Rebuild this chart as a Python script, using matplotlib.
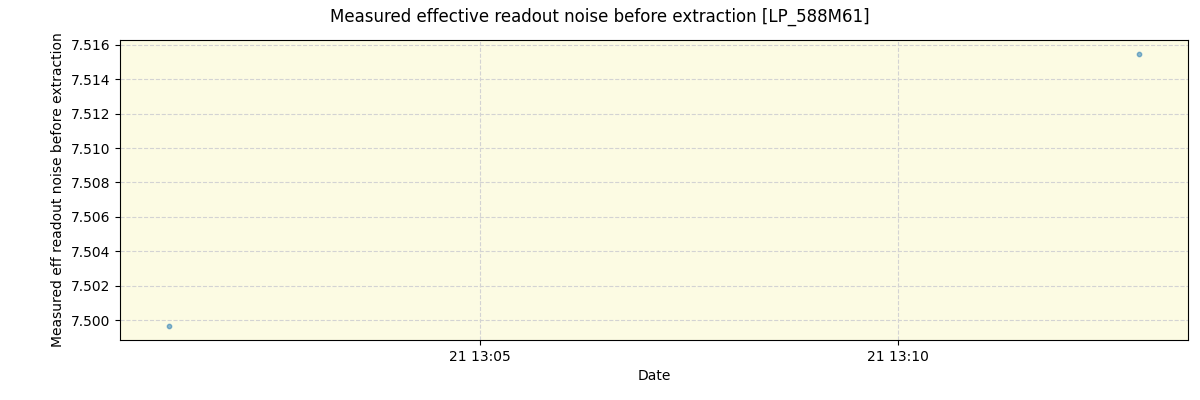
import matplotlib
matplotlib.use("Agg")
import matplotlib.pyplot as plt
import matplotlib.dates as mdates
import pandas as pd

# Data
dates = pd.to_datetime(["2023-06-21 13:01:17", "2023-06-21 13:12:53"])
noise = [7.49963, 7.51549]

fig = plt.figure(figsize=(12, 4), dpi=100)
ax = fig.add_axes([0.1, 0.15, 0.89, 0.75])
ax.set_facecolor("#fcfbe3")
ax.scatter(dates, noise, s=10, color="tab:blue", alpha=0.5, zorder=3)
ax.grid(True, linestyle="--", color="lightgrey", linewidth=0.8)
ax.xaxis.set_major_locator(mdates.MinuteLocator(byminute=[5, 10]))
ax.xaxis.set_major_formatter(mdates.DateFormatter("%d %H:%M"))
ax.yaxis.set_major_formatter(matplotlib.ticker.FormatStrFormatter("%.3f"))
ax.set_xlabel("Date")
ax.set_ylabel("Measured eff readout noise before extraction")
fig.suptitle("Measured effective readout noise before extraction [LP_588M61]", fontsize=12)
fig.savefig("out.png")
